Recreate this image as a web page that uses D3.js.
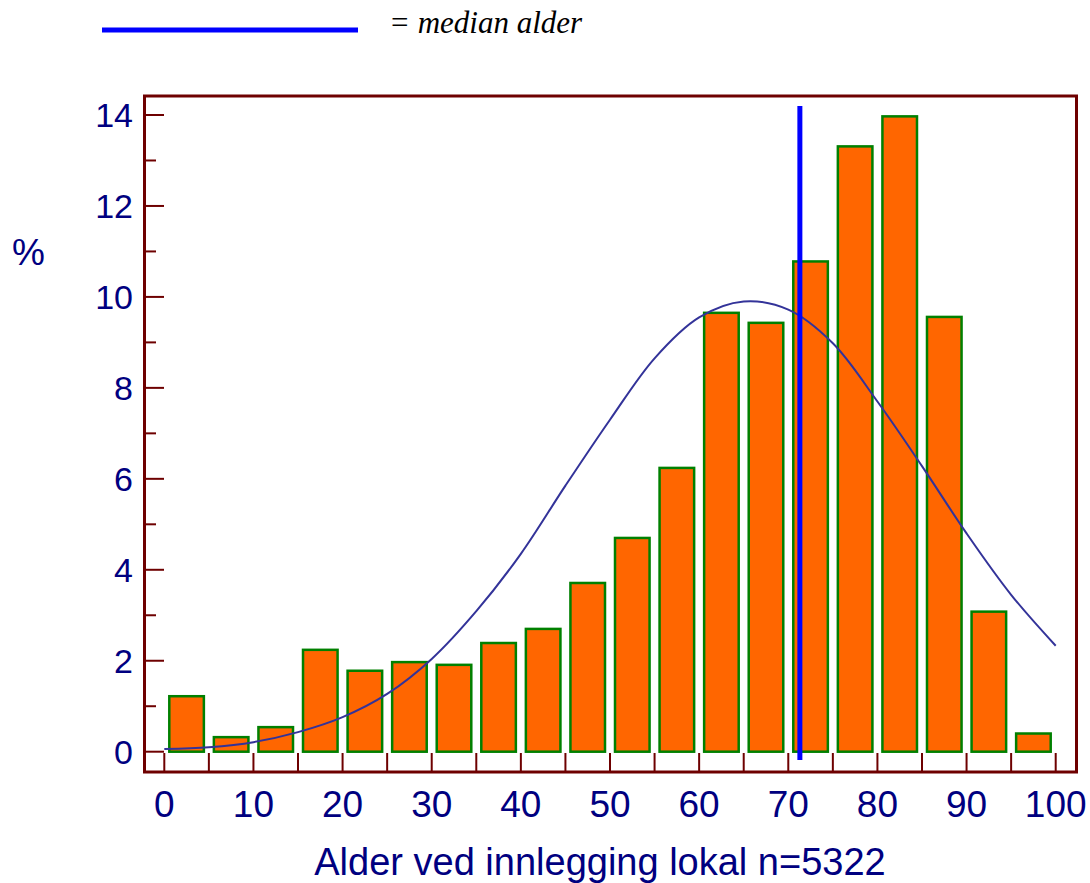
<!DOCTYPE html>
<html>
<head>
<meta charset="utf-8">
<title>Alder ved innlegging</title>
<script src="https://d3js.org/d3.v7.min.js"></script>
<style>
  body { margin: 0; background: #fff; }
  svg { display: block; }
</style>
</head>
<body>
<div id="chart"></div>
<script>
// bins of 5 years, percent of patients per bin
var binStarts = [0, 5, 10, 15, 20, 25, 30, 35, 40, 45, 50, 55, 60, 65, 70, 75, 80, 85, 90, 95];
var binPercent = [1.22, 0.32, 0.54, 2.24, 1.78, 1.97, 1.91, 2.39, 2.70, 3.71, 4.70, 6.24, 9.65, 9.43, 10.78, 13.31, 13.97, 9.56, 3.08, 0.40];
var binWidth = 5;

// fitted normal curve
var curveAge = [0, 5, 10, 15, 20, 25, 30, 35, 40, 45, 50, 55, 60, 65, 70, 75, 80, 85, 90, 95, 100];
var curvePercent = [0.06, 0.10, 0.21, 0.43, 0.76, 1.27, 2.04, 3.09, 4.35, 5.85, 7.3, 8.65, 9.55, 9.9, 9.72, 8.98, 7.7, 6.28, 4.8, 3.45, 2.33];

var medianAge = 71.3;

var xTicks = [0, 10, 20, 30, 40, 50, 60, 70, 80, 90, 100];
var yTicks = [0, 2, 4, 6, 8, 10, 12, 14];

var width = 1090, height = 883;
var axisColor = "#6e0000", textColor = "#000080";

var svg = d3.select("#chart").append("svg")
  .attr("width", width)
  .attr("height", height);

var x = d3.scaleLinear().domain([0, 100]).range([164.3, 1055.7]);
var y = d3.scaleLinear().domain([0, 14]).range([751.7, 115]);

// legend
svg.append("line")
  .attr("x1", 102).attr("x2", 358).attr("y1", 30).attr("y2", 30)
  .attr("stroke", "#0000ff").attr("stroke-width", 5);
svg.append("text")
  .attr("x", 389).attr("y", 33)
  .attr("font-family", "'Liberation Serif', 'Times New Roman', serif")
  .attr("font-style", "italic")
  .attr("font-size", 31)
  .attr("fill", "#000")
  .text("= median alder");

// bars
svg.selectAll(".bar")
  .data(binStarts)
  .enter()
  .append("rect")
  .attr("class", "bar")
  .attr("x", function (d) { return x(d) + 5; })
  .attr("width", function (d) { return x(d + binWidth) - x(d) - 10; })
  .attr("y", function (d, i) { return y(binPercent[i]); })
  .attr("height", function (d, i) { return y(0) - y(binPercent[i]); })
  .attr("fill", "#ff6600")
  .attr("stroke", "#008000")
  .attr("stroke-width", 2.5);

// normal curve
var line = d3.line()
  .x(function (d) { return x(d[0]); })
  .y(function (d) { return y(d[1]); })
  .curve(d3.curveCatmullRom);
svg.append("path")
  .datum(d3.zip(curveAge, curvePercent))
  .attr("d", line)
  .attr("fill", "none")
  .attr("stroke", "#333399")
  .attr("stroke-width", 2);

// median line
svg.append("line")
  .attr("x1", x(medianAge)).attr("x2", x(medianAge))
  .attr("y1", y(14.2)).attr("y2", y(-0.18))
  .attr("stroke", "#0000ff").attr("stroke-width", 5);

// frame
svg.append("rect")
  .attr("x", 144.5).attr("y", 96)
  .attr("width", 932).attr("height", 676)
  .attr("fill", "none")
  .attr("stroke", axisColor)
  .attr("stroke-width", 3);

// y ticks (inward), major + minor
var yMinor = d3.range(1, 14, 2);
svg.selectAll(".ytick")
  .data(yTicks.concat(yMinor))
  .enter()
  .append("line")
  .attr("x1", 146)
  .attr("x2", function (d) { return d % 2 === 0 ? 164 : 156; })
  .attr("y1", function (d) { return y(d); })
  .attr("y2", function (d) { return y(d); })
  .attr("stroke", axisColor)
  .attr("stroke-width", 2);

svg.selectAll(".ylab")
  .data(yTicks)
  .enter()
  .append("text")
  .attr("x", 133)
  .attr("y", function (d) { return y(d); })
  .attr("dy", "0.36em")
  .attr("text-anchor", "end")
  .attr("font-family", "'Liberation Sans', Arial, sans-serif")
  .attr("font-size", 34)
  .attr("fill", textColor)
  .text(function (d) { return d; });

// x ticks every 5, upward from bottom
svg.selectAll(".xtick")
  .data(d3.range(0, 101, 5))
  .enter()
  .append("line")
  .attr("x1", function (d) { return x(d); })
  .attr("x2", function (d) { return x(d); })
  .attr("y1", 771)
  .attr("y2", 753)
  .attr("stroke", axisColor)
  .attr("stroke-width", 2);

svg.selectAll(".xlab")
  .data(xTicks)
  .enter()
  .append("text")
  .attr("x", function (d) { return x(d); })
  .attr("y", 817)
  .attr("text-anchor", "middle")
  .attr("font-family", "'Liberation Sans', Arial, sans-serif")
  .attr("font-size", 37)
  .attr("fill", textColor)
  .text(function (d) { return d; });

// axis titles
svg.append("text")
  .attr("x", 600).attr("y", 875)
  .attr("text-anchor", "middle")
  .attr("font-family", "'Liberation Sans', Arial, sans-serif")
  .attr("font-size", 38)
  .attr("fill", textColor)
  .text("Alder ved innlegging lokal n=5322");

svg.append("text")
  .attr("x", 12).attr("y", 265)
  .attr("font-family", "'Liberation Sans', Arial, sans-serif")
  .attr("font-size", 37)
  .attr("fill", textColor)
  .text("%");
</script>
</body>
</html>
